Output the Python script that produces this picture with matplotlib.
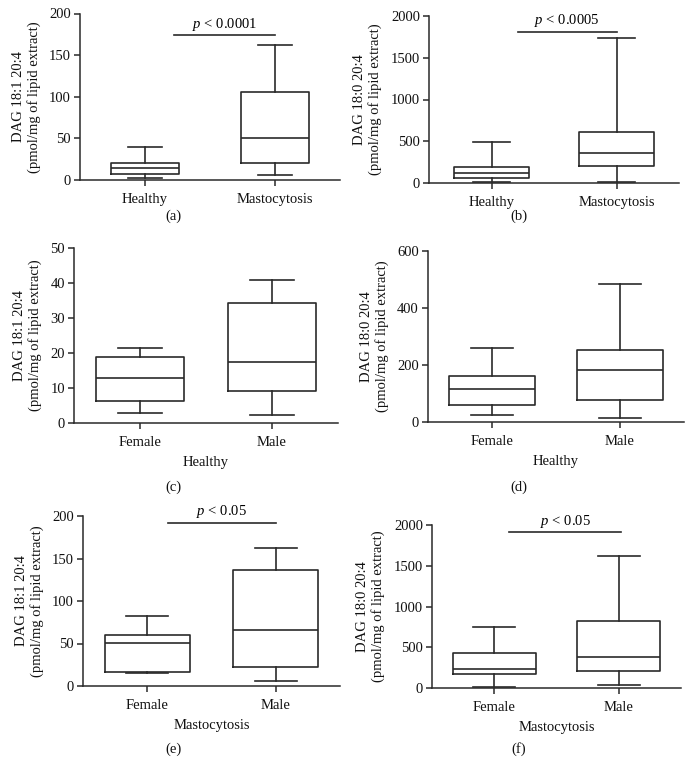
import matplotlib
matplotlib.use("Agg")
import matplotlib.pyplot as plt

plt.rcParams['font.family'] = ['Liberation Serif', 'DejaVu Serif']
plt.rcParams['mathtext.fontset'] = 'custom'
plt.rcParams['mathtext.it'] = 'Liberation Serif:italic'

# ---- data: [whislo, q1, median, q3, whishi] per group ----
cats_ab = ["Healthy", "Mastocytosis"]
cats_sex = ["Female", "Male"]

a_healthy = [3, 7, 14, 21, 40]
a_masto = [6, 20, 50, 106, 162]
b_healthy = [10, 55, 120, 190, 490]
b_masto = [15, 205, 360, 610, 1740]
c_female = [3, 6.4, 12.8, 19, 21.5]
c_male = [2.4, 9.1, 17.5, 34.2, 41]
d_female = [25, 58, 115, 160, 258]
d_male = [15, 76, 182, 252, 485]
e_female = [15, 17, 51, 60, 82]
e_male = [6, 22, 66, 137, 162]
f_female = [10, 175, 230, 425, 745]
f_male = [35, 210, 380, 820, 1615]

ylabel_181 = "DAG 18:1 20:4\n(pmol/mg of lipid extract)"
ylabel_180 = "DAG 18:0 20:4\n(pmol/mg of lipid extract)"

yticks_a = [0, 50, 100, 150, 200]
yticks_b = [0, 500, 1000, 1500, 2000]
yticks_c = [0, 10, 20, 30, 40, 50]
yticks_d = [0, 200, 400, 600]

W, H = 693, 777
fig = plt.figure(figsize=(W / 100, H / 100), dpi=100)

col = '#2a2a2a'
fs = 10.5


def make_ax(x0, x1, ytop, ybot):
    return fig.add_axes([x0 / W, 1 - ybot / H, (x1 - x0) / W, (ybot - ytop) / H])


def panel(ax, groups, cats, yticks, ylabel, boxw, xlabel=None, pbar=None):
    stats = []
    for g, c in zip(groups, cats):
        stats.append(dict(whislo=g[0], q1=g[1], med=g[2], q3=g[3], whishi=g[4], label=c, fliers=[]))
    lp = dict(color=col, linewidth=1.2)
    ax.bxp(stats, positions=[1, 2], widths=boxw, showfliers=False,
           boxprops=lp, whiskerprops=lp, capprops=lp,
           medianprops=dict(color=col, linewidth=1.2), capwidths=boxw * 0.5)
    ax.set_xlim(0.5, 2.5)
    ax.set_ylim(yticks[0], yticks[-1])
    ax.set_yticks(yticks)
    ax.set_xticks([1, 2])
    ax.set_xticklabels(cats, fontsize=fs)
    ax.tick_params(axis='y', labelsize=fs, direction='out', length=4.5, width=1.1, colors=col, pad=2)
    ax.tick_params(axis='x', labelsize=fs, direction='out', length=4.5, width=1.1, colors=col, pad=5)
    for lab in ax.get_xticklabels() + ax.get_yticklabels():
        lab.set_color('#111111')
    for s in ['top', 'right']:
        ax.spines[s].set_visible(False)
    for s in ['left', 'bottom']:
        ax.spines[s].set_color(col)
        ax.spines[s].set_linewidth(1.1)
    ax.set_ylabel(ylabel, fontsize=fs, linespacing=1.2, color='#111111', labelpad=6)
    if xlabel:
        ax.set_xlabel(xlabel, fontsize=fs, color='#111111', labelpad=5)
    if pbar:
        x0, x1, y, txt = pbar
        ax.plot([x0, x1], [y, y], color=col, linewidth=1.2, clip_on=False)
        top = yticks[-1]
        ax.text((x0 + x1) / 2, y + top * 0.015, txt, ha='center', va='bottom', fontsize=fs, clip_on=False)


ax_a = make_ax(80, 340, 13.5, 180)
panel(ax_a, [a_healthy, a_masto], cats_ab, yticks_a, ylabel_181, 0.52,
      pbar=(1.22, 2.0, 174, r"$\it{p}$ < 0.0001"))
ax_b = make_ax(429, 679, 16, 183)
panel(ax_b, [b_healthy, b_masto], cats_ab, yticks_b, ylabel_180, 0.6,
      pbar=(1.21, 2.0, 1810, r"$\it{p}$ < 0.0005"))
ax_c = make_ax(74, 338, 248, 423)
panel(ax_c, [c_female, c_male], cats_sex, yticks_c, ylabel_181, 0.66, xlabel="Healthy")
ax_d = make_ax(428, 684, 251, 422)
panel(ax_d, [d_female, d_male], cats_sex, yticks_d, ylabel_180, 0.67, xlabel="Healthy")
ax_e = make_ax(83, 340, 516, 686)
panel(ax_e, [e_female, e_male], cats_sex, yticks_a, ylabel_181, 0.66, xlabel="Mastocytosis",
      pbar=(1.16, 2.0, 192, r"$\it{p}$ < 0.05"))
ax_f = make_ax(432, 681, 525, 688)
panel(ax_f, [f_female, f_male], cats_sex, yticks_b, ylabel_180, 0.67, xlabel="Mastocytosis",
      pbar=(1.12, 2.02, 1914, r"$\it{p}$ < 0.05"))

for lab, x, y in [("(a)", 173, 216), ("(b)", 519, 216), ("(c)", 173, 487),
                  ("(d)", 519, 487), ("(e)", 173, 749), ("(f)", 519, 749)]:
    fig.text(x / W, 1 - y / H, lab, ha='center', va='center', fontsize=fs, color='#111111')

fig.savefig("out.png", dpi=100, facecolor='white')
